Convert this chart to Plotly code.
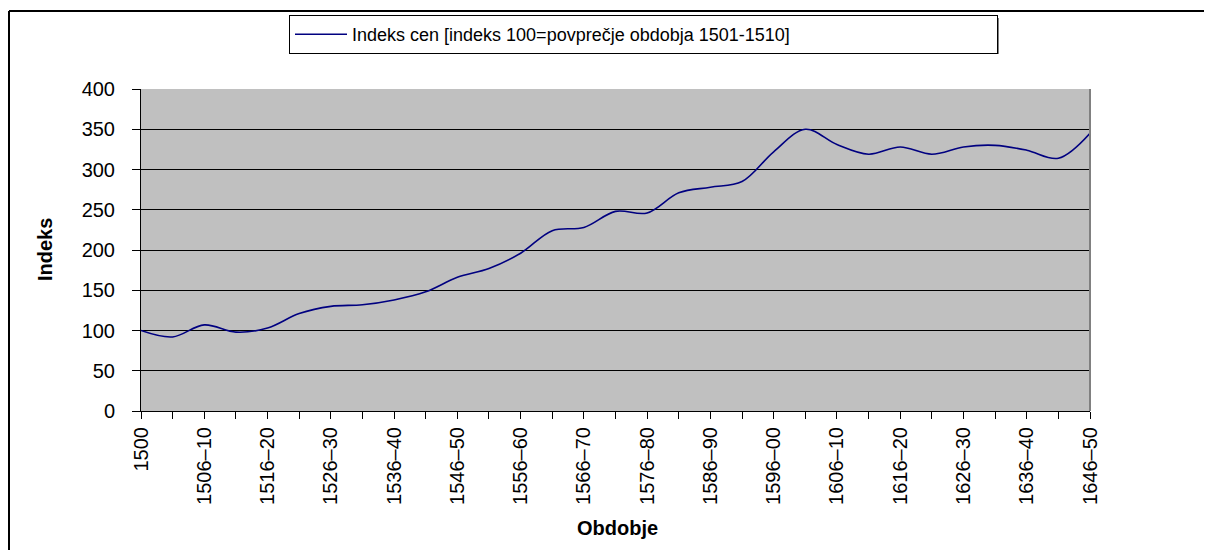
import plotly.graph_objects as go

# 5-year periods, first point is the base year
periods = ["1500", "1501–05", "1506–10", "1511–15", "1516–20", "1521–25", "1526–30",
           "1531–35", "1536–40", "1541–45", "1546–50", "1551–55", "1556–60", "1561–65",
           "1566–70", "1571–75", "1576–80", "1581–85", "1586–90", "1591–95", "1596–00",
           "1601–05", "1606–10", "1611–15", "1616–20", "1621–25", "1626–30", "1631–35",
           "1636–40", "1641–45", "1646–50"]
price_index = [100, 92, 107, 98, 103, 121, 130, 132, 138, 148, 166, 177, 196, 224,
               228, 248, 246, 271, 278, 285, 322, 350, 331, 319, 328, 319, 328, 330,
               324, 314, 345]
y_ticks = [0, 50, 100, 150, 200, 250, 300, 350, 400]

# label only every second period, like the original sheet
tick_text = [p if i % 2 == 0 else "" for i, p in enumerate(periods)]

series_name = "Indeks cen [indeks 100=povprečje obdobja 1501-1510]"

# page pixels; the html body adds an 8px margin around the figure,
# keep the figure small enough that the page does not scroll
OFF = 8
PL, PR, PT, PB = 141, 1090, 89, 411   # plot area on the page
W, H = 1212 - 2 * OFF, 558 - 2 * OFF
pw, ph = PR - PL, PB - PT


def px_x(x):
    return (x - PL) / pw


def px_y(y):
    return (PB - y) / ph


fig = go.Figure()
fig.add_trace(go.Scatter(
    x=periods, y=price_index, mode="lines", name=series_name,
    line=dict(color="#000080", width=1.6, shape="spline", smoothing=1.0),
))

fig.update_layout(
    width=W, height=H,
    margin=dict(l=PL - OFF, r=W - (PR - OFF), t=PT - OFF, b=H - (PB - OFF),
                autoexpand=False),
    paper_bgcolor="white", plot_bgcolor="#C0C0C0",
    font=dict(family="Liberation Sans, Arial, sans-serif", size=20, color="black"),
    showlegend=True,
    legend=dict(
        x=px_x(289), y=px_y(15), xanchor="left", yanchor="top",
        orientation="h", bgcolor="white", bordercolor="black", borderwidth=1,
        font=dict(size=18), itemwidth=52, entrywidth=640,
    ),
)

fig.update_xaxes(
    type="category", range=[0, len(periods) - 1],
    tickmode="array", tickvals=periods, ticktext=tick_text, tickangle=-90,
    showgrid=False, showline=True, linecolor="black", linewidth=1,
    ticks="outside", ticklen=7, tickcolor="black",
)
fig.update_yaxes(
    range=[0, 400], tickvals=y_ticks,
    showgrid=True, gridcolor="black", gridwidth=1,
    showline=True, linecolor="black", linewidth=1, zeroline=False,
    ticks="outside", ticklen=8, tickcolor="black", ticklabelstandoff=13,
)

fig.add_annotation(text="<b>Indeks</b>", xref="paper", yref="paper",
                   x=px_x(45), y=0.5, xanchor="center", yanchor="middle",
                   textangle=-90, showarrow=False, font=dict(size=20))
fig.add_annotation(text="<b>Obdobje</b>", xref="paper", yref="paper",
                   x=px_x(617), y=px_y(528), xanchor="center", yanchor="middle",
                   showarrow=False, font=dict(size=20))

# legend drop shadow (legend itself is drawn on top)
fig.add_shape(type="rect", xref="paper", yref="paper",
              x0=px_x(292), x1=px_x(999), y0=px_y(18), y1=px_y(54),
              fillcolor="#808080", line=dict(width=0))

# plot area edge and outer frame
fig.add_shape(type="line", xref="paper", yref="paper", x0=1, x1=1, y0=0, y1=1,
              line=dict(color="#808080", width=2))
fig.add_shape(type="line", xref="paper", yref="paper",
              x0=px_x(9), x1=px_x(1204), y0=px_y(11), y1=px_y(11),
              line=dict(color="black", width=2))
fig.add_shape(type="line", xref="paper", yref="paper",
              x0=px_x(9), x1=px_x(9), y0=px_y(11), y1=px_y(550),
              line=dict(color="black", width=2))

fig.write_html("out.html", config={"displayModeBar": False})
